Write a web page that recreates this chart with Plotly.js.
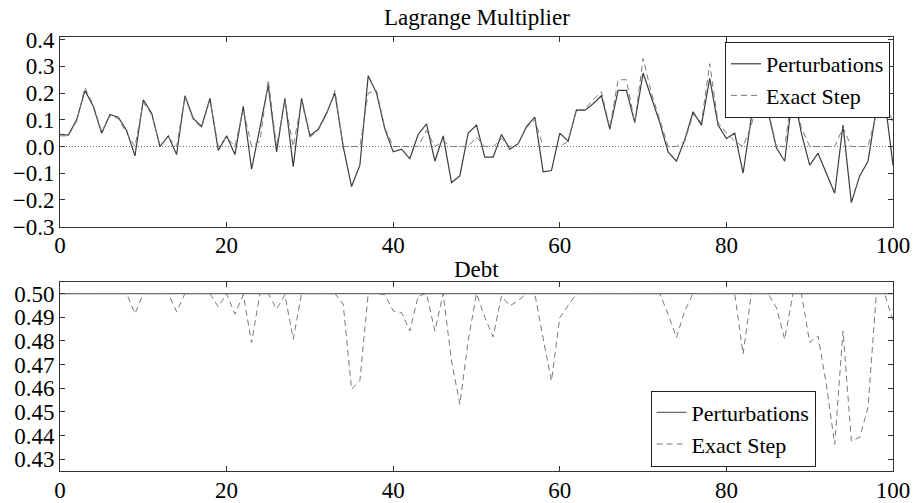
<!DOCTYPE html>
<html>
<head>
<meta charset="utf-8">
<script src="https://cdn.plot.ly/plotly-3.0.1.min.js"></script>
<style>html,body{margin:0;padding:0;background:#fff;}#chart{width:916px;height:503px;}</style>
</head>
<body>
<div id="chart"></div>
<script>
const periods = [0,1,2,3,4,5,6,7,8,9,10,11,12,13,14,15,16,17,18,19,20,21,22,23,24,25,26,27,28,29,30,31,32,33,34,35,36,37,38,39,40,41,42,43,44,45,46,47,48,49,50,51,52,53,54,55,56,57,58,59,60,61,62,63,64,65,66,67,68,69,70,71,72,73,74,75,76,77,78,79,80,81,82,83,84,85,86,87,88,89,90,91,92,93,94,95,96,97,98,99,100];

const lagrangePerturb = [0.046,0.043,0.10,0.21,0.15,0.05,0.12,0.11,0.06,-0.035,
  0.175,0.125,0.0,0.04,-0.03,0.19,0.105,0.075,0.18,-0.015,
  0.04,-0.03,0.15,-0.085,0.07,0.23,-0.02,0.18,-0.075,0.18,
  0.04,0.065,0.125,0.20,0.0,-0.15,-0.07,0.265,0.20,0.065,
  -0.02,-0.01,-0.045,0.045,0.085,-0.055,0.04,-0.135,-0.11,0.05,
  0.08,-0.04,-0.04,0.045,-0.01,0.01,0.075,0.11,-0.095,-0.09,
  0.05,0.02,0.137,0.135,0.16,0.19,0.065,0.21,0.21,0.09,
  0.275,0.18,0.09,-0.02,-0.055,0.025,0.13,0.08,0.255,0.08,
  0.03,0.05,-0.10,0.11,0.19,0.13,-0.005,-0.055,0.21,0.05,
  -0.07,-0.025,-0.10,-0.175,0.08,-0.21,-0.11,-0.055,0.14,0.18,
  -0.07];

const lagrangeExact = [0.04,0.04,0.095,0.22,0.155,0.055,0.115,0.105,0.05,0.0,
  0.165,0.12,0.005,0.035,0.0,0.185,0.10,0.07,0.175,0.0,
  0.035,0.0,0.14,0.0,0.02,0.25,0.0,0.17,0.0,0.17,
  0.035,0.06,0.12,0.21,0.0,0.0,0.0,0.20,0.21,0.07,
  0.0,0.0,0.0,0.0,0.06,0.0,0.02,0.0,0.0,0.0,
  0.035,0.0,0.0,0.03,0.0,0.01,0.07,0.10,0.0,0.0,
  0.0,0.02,0.135,0.14,0.175,0.205,0.07,0.25,0.25,0.09,
  0.33,0.20,0.10,0.0,0.0,0.02,0.12,0.09,0.31,0.09,
  0.05,0.02,0.0,0.08,0.215,0.14,0.0,0.0,0.22,0.07,
  0.0,0.0,0.0,0.0,0.07,0.0,0.0,0.0,0.12,0.205,
  0.08];

const debtPerturb = [0.5,0.5,0.5,0.5,0.5,0.5,0.5,0.5,0.5,0.5,
  0.5,0.5,0.5,0.5,0.5,0.5,0.5,0.5,0.5,0.5,
  0.5,0.5,0.5,0.5,0.5,0.5,0.5,0.5,0.5,0.5,
  0.5,0.5,0.5,0.5,0.5,0.5,0.5,0.5,0.5,0.5,
  0.5,0.5,0.5,0.5,0.5,0.5,0.5,0.5,0.5,0.5,
  0.5,0.5,0.5,0.5,0.5,0.5,0.5,0.5,0.5,0.5,
  0.5,0.5,0.5,0.5,0.5,0.5,0.5,0.5,0.5,0.5,
  0.5,0.5,0.5,0.5,0.5,0.5,0.5,0.5,0.5,0.5,
  0.5,0.5,0.5,0.5,0.5,0.5,0.5,0.5,0.5,0.5,
  0.5,0.5,0.5,0.5,0.5,0.5,0.5,0.5,0.5,0.5,
  0.5];

const debtExact = [0.5,0.5,0.5,0.5,0.5,0.5,0.5,0.5,0.5,0.4915,
  0.5,0.5,0.5,0.5,0.4923,0.5,0.5,0.5,0.5,0.4944,
  0.5,0.4913,0.4995,0.4793,0.5,0.5,0.4934,0.4995,0.4807,0.5,
  0.5,0.5,0.5,0.5,0.4955,0.4596,0.4631,0.5,0.5,0.4995,
  0.4927,0.492,0.4842,0.499,0.5,0.4842,0.5,0.4715,0.4532,0.48,
  0.5,0.49,0.4817,0.499,0.4948,0.497,0.5,0.5,0.481,0.4631,
  0.4899,0.4948,0.5,0.5,0.5,0.5,0.5,0.5,0.5,0.5,
  0.5,0.5,0.5,0.4913,0.4814,0.4927,0.5,0.5,0.5,0.5,
  0.5,0.5,0.4744,0.5,0.5,0.5,0.4941,0.4807,0.5,0.5,
  0.4793,0.4821,0.4615,0.4363,0.4842,0.4377,0.4392,0.4518,0.5,0.5,
  0.4885];

const xTicks = [0,20,40,60,80,100];
const seriesNames = ['Perturbations','Exact Step'];
const titles = ['Lagrange Multiplier','Debt'];

const FONT = 'Liberation Serif';
const solidLine = {color:'#3c3c3c', width:1.2};
const dashLine = {color:'#7a7a7a', width:1, dash:'6px,4px'};

const traces = [
  {x:periods, y:lagrangePerturb, name:seriesNames[0], mode:'lines', line:solidLine, xaxis:'x', yaxis:'y', legend:'legend'},
  {x:periods, y:lagrangeExact, name:seriesNames[1], mode:'lines', line:dashLine, xaxis:'x', yaxis:'y', legend:'legend'},
  {x:periods, y:debtPerturb, name:seriesNames[0], mode:'lines', line:{color:'#6a6a6a', width:1.2}, xaxis:'x2', yaxis:'y2', legend:'legend2'},
  {x:periods, y:debtExact, name:seriesNames[1], mode:'lines', line:dashLine, xaxis:'x2', yaxis:'y2', legend:'legend2'}
];

const axisCommon = {
  showgrid:false, zeroline:false, showline:true, linecolor:'#333', linewidth:1,
  mirror:'ticks', ticks:'inside', ticklen:5, tickcolor:'#333', tickwidth:1,
  tickfont:{family:FONT, size:23, color:'#000'}
};

const legendCommon = {
  bgcolor:'#fff', bordercolor:'#222', borderwidth:1,
  font:{family:FONT, size:22, color:'#000'}, tracegroupgap:0, itemwidth:30
};

const layout = {
  width:916, height:503,
  margin:{l:60, r:23, t:37, b:32, pad:0},
  paper_bgcolor:'#fff', plot_bgcolor:'#fff',
  font:{family:FONT, size:23, color:'#000'},
  showlegend:true,
  xaxis:Object.assign({}, axisCommon, {domain:[0,1], range:[0,100], anchor:'y', tickvals:xTicks, ticklabelstandoff:-2}),
  yaxis:Object.assign({}, axisCommon, {domain:[0.563,1], range:[-0.3,0.41], anchor:'x', tick0:0, dtick:0.1, tickformat:'.1f'}),
  xaxis2:Object.assign({}, axisCommon, {domain:[0,1], range:[0,100], anchor:'y2', tickvals:xTicks, ticklabelstandoff:-2}),
  yaxis2:Object.assign({}, axisCommon, {domain:[0,0.436], range:[0.425,0.505], anchor:'x2', tick0:0.43, dtick:0.01, tickformat:'.2f'}),
  legend:Object.assign({}, legendCommon, {x:0.9964, xanchor:'right', y:0.9885, yanchor:'top'}),
  legend2:Object.assign({}, legendCommon, {x:0.709, xanchor:'left', y:0.01, yanchor:'bottom'}),
  shapes:[
    {type:'line', xref:'x', yref:'y', x0:0, x1:100, y0:0, y1:0, layer:'below',
     line:{color:'#707070', width:1, dash:'1px,2px'}}
  ],
  annotations:[
    {text:titles[0], xref:'paper', yref:'paper', x:0.5, y:1.0438, xanchor:'center', yanchor:'middle', showarrow:false, font:{family:FONT, size:23, color:'#000'}},
    {text:titles[1], xref:'paper', yref:'paper', x:0.5, y:0.4654, xanchor:'center', yanchor:'middle', showarrow:false, font:{family:FONT, size:23, color:'#000'}}
  ]
};

Plotly.newPlot('chart', traces, layout, {displayModeBar:false, staticPlot:true});
</script>
</body>
</html>
